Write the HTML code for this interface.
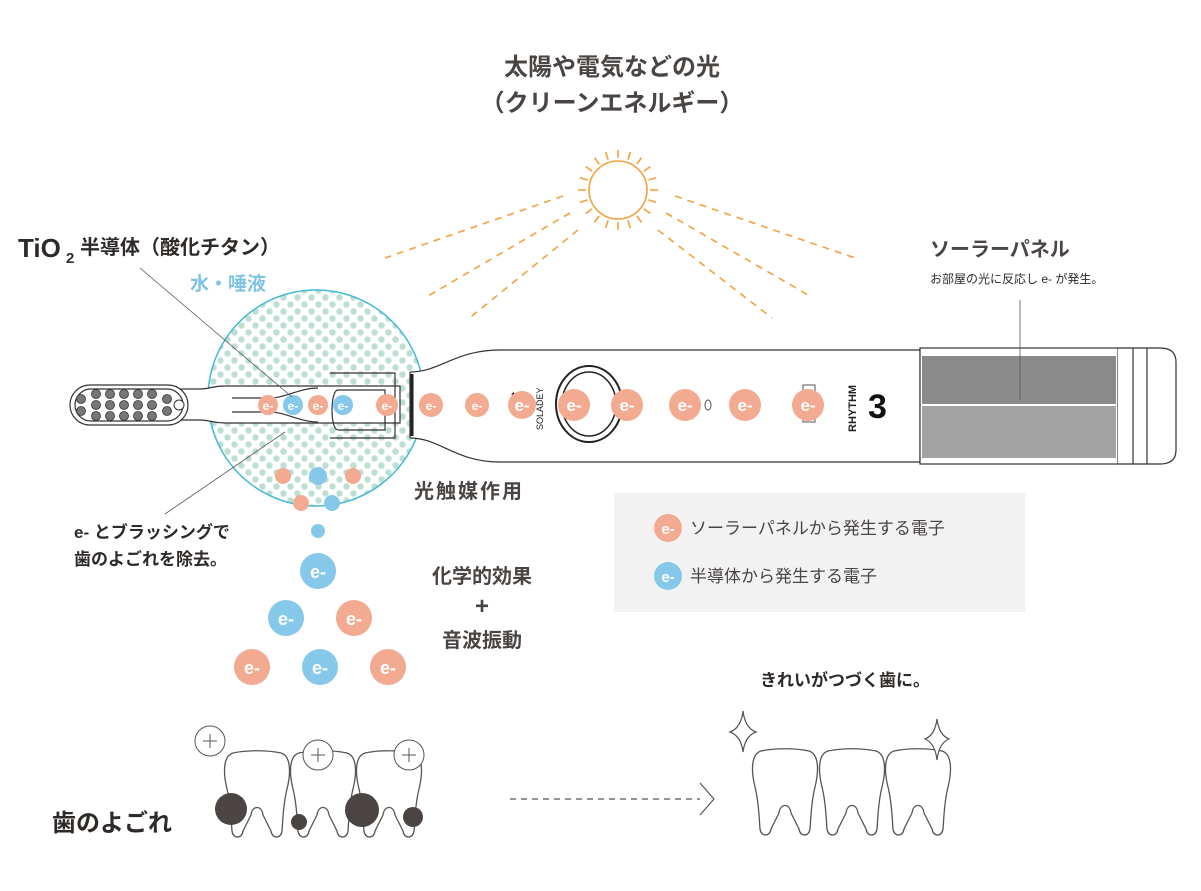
<!DOCTYPE html>
<html><head><meta charset="utf-8"><style>
body{margin:0;background:#fff;}
svg{display:block;}
text{font-family:"Liberation Sans","Noto Sans CJK JP",sans-serif;}
</style></head><body>
<svg width="1201" height="891" viewBox="0 0 1201 891" xmlns="http://www.w3.org/2000/svg">
<defs>
<pattern id="dots" x="0" y="0" width="14" height="14" patternUnits="userSpaceOnUse">
<circle cx="3.5" cy="3.5" r="3.2" fill="#bcdfd2"/><circle cx="10.5" cy="10.5" r="3.2" fill="#bcdfd2"/>
</pattern>
<path id="tooth" d="M8,0 C22,-3 42,-3 56,0 C66,3 66,20 62,36 C58,52 58,66 57,78 C56,86 47,86 46,78 L38,62 C37,52 27,52 26,62 L18,78 C17,86 8,86 7,78 C6,66 6,52 2,36 C-2,20 -2,3 8,0 Z" fill="#fff" stroke="#555" stroke-width="1.3"/>
</defs>

<text x="612" y="75" font-size="24" font-weight="bold" fill="#4a4543" text-anchor="middle">太陽や電気などの光</text>
<text x="612" y="111" font-size="24" font-weight="bold" fill="#4a4543" text-anchor="middle">（クリーンエネルギー）</text>

<g stroke="#f5a03c" stroke-width="1.6" fill="none">
<circle cx="618" cy="190" r="29"/>
<g id="rays"><line x1="618" y1="158" x2="618" y2="150"/></g>
<use href="#rays" transform="rotate(18 618 190)"/><use href="#rays" transform="rotate(36 618 190)"/><use href="#rays" transform="rotate(54 618 190)"/><use href="#rays" transform="rotate(72 618 190)"/><use href="#rays" transform="rotate(90 618 190)"/><use href="#rays" transform="rotate(108 618 190)"/><use href="#rays" transform="rotate(126 618 190)"/><use href="#rays" transform="rotate(144 618 190)"/><use href="#rays" transform="rotate(162 618 190)"/><use href="#rays" transform="rotate(180 618 190)"/><use href="#rays" transform="rotate(198 618 190)"/><use href="#rays" transform="rotate(216 618 190)"/><use href="#rays" transform="rotate(234 618 190)"/><use href="#rays" transform="rotate(252 618 190)"/><use href="#rays" transform="rotate(270 618 190)"/><use href="#rays" transform="rotate(288 618 190)"/><use href="#rays" transform="rotate(306 618 190)"/><use href="#rays" transform="rotate(324 618 190)"/><use href="#rays" transform="rotate(342 618 190)"/>
<g stroke-dasharray="7,6">
<line x1="563" y1="196" x2="385" y2="258"/>
<line x1="570" y1="213" x2="428" y2="296"/>
<line x1="578" y1="230" x2="467" y2="320"/>
<line x1="675" y1="196" x2="855" y2="258"/>
<line x1="666" y1="213" x2="810" y2="296"/>
<line x1="658" y1="230" x2="772" y2="318"/>
</g>
</g>

<text x="18" y="257" font-size="26" font-weight="bold" fill="#2e2a28">TiO</text>
<text x="66" y="263" font-size="15" font-weight="bold" fill="#2e2a28">2</text>
<text x="80" y="254" font-size="20" font-weight="bold" fill="#2e2a28">半導体（酸化チタン）</text>
<text x="190" y="290" font-size="19" font-weight="bold" fill="#7fc3e6">水・唾液</text>

<circle cx="316" cy="398" r="108" fill="url(#dots)" stroke="#3fb9d5" stroke-width="1.5"/>

<g fill="none" stroke="#333" stroke-width="1.2">
<path d="M410,372 C440,372 455,350 500,350 L920,350 L920,462 L500,462 C455,462 440,438 410,438" fill="#fff"/>
<path d="M410,372 L410,438"/>
<rect x="920" y="348" width="198" height="116" fill="#fff"/>
<path d="M1118,348 L1160,348 Q1176,348 1176,362 L1176,450 Q1176,464 1160,464 L1118,464" fill="#fff"/>
<line x1="1133" y1="348" x2="1133" y2="464"/><line x1="1147" y1="348" x2="1147" y2="464"/>
<path d="M180,389 L200,389 C210,389 212,386 225,386 L400,386 L400,423 L225,423 C212,423 210,420 200,420 L180,420" fill="#fff"/>
<rect x="70" y="385" width="118" height="40" rx="20" fill="#fff"/>
<rect x="75" y="389" width="108" height="32" rx="16"/>
<path d="M330,373 L395,373 L395,438 L330,438" />
<path d="M232,398 L270,398 C285,398 300,388 318,388 M232,412 L270,412 C285,412 300,422 318,422"/>
<path d="M338,390 L385,390 L385,430 L338,430 C330,430 330,390 338,390"/>
</g>
<line x1="412" y1="374" x2="412" y2="436" stroke="#222" stroke-width="3"/>
<g fill="#777" stroke="#333" stroke-width="0.8">
<circle cx="81" cy="399" r="4.5"/><circle cx="81" cy="411" r="4.5"/>
<circle cx="96" cy="394" r="4.5"/><circle cx="96" cy="405" r="4.5"/><circle cx="96" cy="416" r="4.5"/>
<circle cx="110" cy="394" r="4.5"/><circle cx="110" cy="405" r="4.5"/><circle cx="110" cy="416" r="4.5"/>
<circle cx="124" cy="394" r="4.5"/><circle cx="124" cy="405" r="4.5"/><circle cx="124" cy="416" r="4.5"/>
<circle cx="138" cy="394" r="4.5"/><circle cx="138" cy="405" r="4.5"/><circle cx="138" cy="416" r="4.5"/>
<circle cx="152" cy="394" r="4.5"/><circle cx="152" cy="405" r="4.5"/><circle cx="152" cy="416" r="4.5"/>
<circle cx="167" cy="399" r="4.5"/><circle cx="167" cy="411" r="4.5"/>
</g>
<circle cx="179" cy="405" r="5" fill="#fff" stroke="#333"/>

<rect x="922" y="356" width="194" height="48" fill="#8a8a8a"/>
<rect x="922" y="406" width="194" height="52" fill="#a3a3a3"/>

<ellipse cx="589" cy="404" rx="33" ry="38" fill="none" stroke="#222" stroke-width="2"/>
<ellipse cx="589" cy="404" rx="27" ry="32" fill="none" stroke="#222" stroke-width="1.5"/>
<text transform="translate(543,430) rotate(-90)" font-size="9" fill="#222">SOLADEY</text>
<text x="510" y="397" font-size="8" fill="#222">✦</text><text x="510" y="405" font-size="8" fill="#222">✦</text><text x="510" y="413" font-size="8" fill="#222">✦</text>
<rect x="803" y="385" width="12" height="37" fill="none" stroke="#555"/>
<ellipse cx="708" cy="405" rx="3" ry="5" fill="none" stroke="#555"/>
<text transform="translate(856,432) rotate(-90)" font-size="11" font-weight="bold" fill="#222">RHYTHM</text>
<text x="868" y="418" font-size="34" font-weight="bold" fill="#111">3</text>

<g font-weight="bold" fill="#fff" text-anchor="middle">
<g font-size="12">
<circle cx="268" cy="405" r="10" fill="#f2aa90"/><text x="268" y="410">e-</text>
<circle cx="293" cy="405" r="10" fill="#86c8ea"/><text x="293" y="410">e-</text>
<circle cx="318" cy="405" r="10" fill="#f2aa90"/><text x="318" y="410">e-</text>
<circle cx="343" cy="405" r="10" fill="#86c8ea"/><text x="343" y="410">e-</text>
<circle cx="387" cy="405" r="11" fill="#f2aa90"/><text x="387" y="410">e-</text>
<circle cx="431" cy="405" r="12" fill="#f2aa90"/><text x="431" y="410">e-</text>
<circle cx="477" cy="405" r="12" fill="#f2aa90"/><text x="477" y="410">e-</text>
</g>
<g font-size="17">
<circle cx="522" cy="405" r="14" fill="#f2aa90"/><text x="522" y="411">e-</text>
<circle cx="574" cy="405" r="16" fill="#f2aa90"/><text x="574" y="411">e-</text>
<circle cx="627" cy="405" r="16" fill="#f2aa90"/><text x="627" y="411">e-</text>
<circle cx="685" cy="405" r="16" fill="#f2aa90"/><text x="685" y="411">e-</text>
<circle cx="745" cy="405" r="16" fill="#f2aa90"/><text x="745" y="411">e-</text>
<circle cx="808" cy="405" r="16" fill="#f2aa90"/><text x="808" y="411">e-</text>
</g>
</g>
<circle cx="283" cy="476" r="8" fill="#f2aa90"/><circle cx="318" cy="476" r="9" fill="#86c8ea"/><circle cx="353" cy="476" r="8" fill="#f2aa90"/>
<circle cx="301" cy="503" r="8" fill="#f2aa90"/><circle cx="332" cy="503" r="8" fill="#86c8ea"/>
<circle cx="318" cy="531" r="7" fill="#86c8ea"/>

<g stroke="#555" stroke-width="0.8">
<line x1="140" y1="268" x2="292" y2="397"/>
<line x1="165" y1="514" x2="285" y2="432"/>
<line x1="1020" y1="300" x2="1020" y2="400"/>
</g>

<g font-weight="bold" fill="#fff" text-anchor="middle" font-size="18">
<circle cx="318" cy="571" r="18" fill="#86c8ea"/><text x="318" y="578">e-</text>
<circle cx="286" cy="618" r="18" fill="#86c8ea"/><text x="286" y="625">e-</text>
<circle cx="354" cy="618" r="18" fill="#f2aa90"/><text x="354" y="625">e-</text>
<circle cx="252" cy="667" r="18" fill="#f2aa90"/><text x="252" y="674">e-</text>
<circle cx="320" cy="667" r="18" fill="#86c8ea"/><text x="320" y="674">e-</text>
<circle cx="388" cy="667" r="18" fill="#f2aa90"/><text x="388" y="674">e-</text>
</g>

<text x="414" y="498" font-size="20" font-weight="bold" fill="#4a4543" letter-spacing="2">光触媒作用</text>
<text x="74" y="538" font-size="17" font-weight="bold" fill="#2e2a28">e- とブラッシングで</text>
<text x="74" y="565" font-size="17" font-weight="bold" fill="#2e2a28">歯のよごれを除去。</text>
<text x="482" y="583" font-size="20" font-weight="bold" fill="#4a4543" text-anchor="middle">化学的効果</text>
<text x="482" y="614" font-size="24" font-weight="bold" fill="#4a4543" text-anchor="middle">+</text>
<text x="482" y="647" font-size="20" font-weight="bold" fill="#4a4543" text-anchor="middle">音波振動</text>

<text x="930" y="256" font-size="20" font-weight="bold" fill="#4a4543">ソーラーパネル</text>
<text x="930" y="283" font-size="12" fill="#2e2a28">お部屋の光に反応し e- が発生。</text>

<rect x="614" y="493" width="411" height="119" fill="#f2f2f2"/>
<circle cx="668" cy="528" r="14" fill="#f2aa90"/><text x="668" y="534" font-size="15" font-weight="bold" fill="#fff" text-anchor="middle">e-</text>
<text x="690" y="534" font-size="17" fill="#4a4543">ソーラーパネルから発生する電子</text>
<circle cx="668" cy="576" r="14" fill="#86c8ea"/><text x="668" y="582" font-size="15" font-weight="bold" fill="#fff" text-anchor="middle">e-</text>
<text x="690" y="582" font-size="17" fill="#4a4543">半導体から発生する電子</text>

<text x="845" y="686" font-size="17" font-weight="bold" fill="#2e2a28" text-anchor="middle">きれいがつづく歯に。</text>

<use href="#tooth" x="225" y="753"/>
<use href="#tooth" x="291" y="753"/>
<use href="#tooth" x="357" y="753"/>
<g fill="#4a4543">
<circle cx="231" cy="809" r="16"/><circle cx="299" cy="822" r="8"/><circle cx="362" cy="810" r="17"/><circle cx="413" cy="817" r="10"/>
</g>
<g fill="#fff" stroke="#555" stroke-width="1">
<circle cx="210" cy="741" r="15"/><circle cx="318" cy="755" r="15"/><circle cx="409" cy="755" r="15"/>
</g>
<g stroke="#555" stroke-width="1">
<path d="M203,741 h14 M210,734 v14 M311,755 h14 M318,748 v14 M402,755 h14 M409,748 v14"/>
</g>
<text x="52" y="831" font-size="24" font-weight="bold" fill="#2e2a28">歯のよごれ</text>

<line x1="510" y1="799" x2="700" y2="799" stroke="#555" stroke-width="1.2" stroke-dasharray="6,5"/>
<path d="M700,783 L714,799 L700,815" fill="none" stroke="#555" stroke-width="1.2"/>

<use href="#tooth" x="753" y="751"/>
<use href="#tooth" x="820" y="751"/>
<use href="#tooth" x="886" y="751"/>
<g fill="#fff" stroke="#555" stroke-width="1.2">
<path d="M743,711 Q745,728 756,732 Q745,736 743,752 Q741,736 730,732 Q741,728 743,711 Z"/>
<path d="M937,719 Q939,735 949,739 Q939,743 937,760 Q935,743 925,739 Q935,735 937,719 Z"/>
</g>
</svg>
</body></html>
